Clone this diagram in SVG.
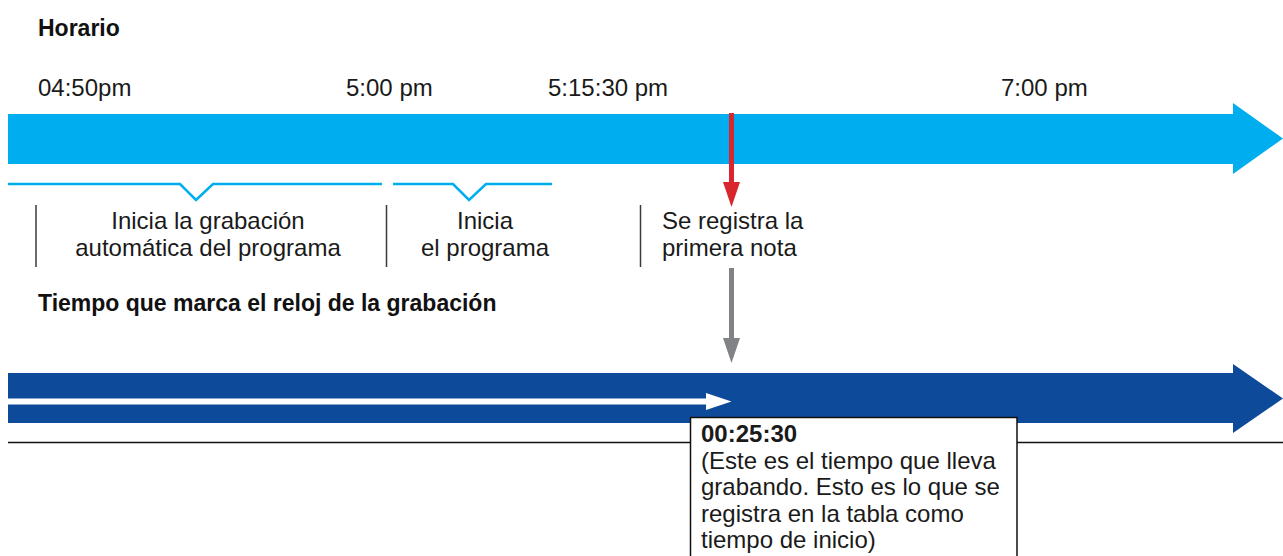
<svg xmlns="http://www.w3.org/2000/svg" width="1283" height="556" viewBox="0 0 1283 556">
<defs>
<style>
.t{font-family:"Liberation Sans",Arial,sans-serif;font-size:24px;fill:#1a1a1a}
.h{font-family:"Liberation Sans",Arial,sans-serif;font-size:23px;font-weight:bold;fill:#111}
.c{text-anchor:middle}
.br{fill:none;stroke:#00AEEF;stroke-width:2.5}
.sep{stroke:#3a3a3a;stroke-width:1.5}
</style>
</defs>
<rect width="1283" height="556" fill="#fff"/>

<g id="title-horario"><text class="h" x="38" y="36">Horario</text></g>

<g id="time-labels">
<text class="t" x="38" y="96">04:50pm</text>
<text class="t" x="346" y="96">5:00 pm</text>
<text class="t" x="548" y="96">5:15:30 pm</text>
<text class="t" x="1001" y="96">7:00 pm</text>
</g>

<g id="timeline-horario">
<polygon points="8,114 1233,114 1233,103 1283,138.5 1233,174 1233,164 8,164" fill="#00AEEF"/>
</g>

<g id="bracket-grabacion">
<polyline class="br" points="8,184 180,184 196,200 213,184 382,184"/>
</g>
<g id="bracket-programa">
<polyline class="br" points="393,184 453,184 469,200 486,184 552,184"/>
</g>

<g id="node-grabacion">
<line class="sep" x1="36" y1="205" x2="36" y2="267"/>
<text class="t c" x="208" y="229">Inicia la grabación</text>
<text class="t c" x="208" y="256">automática del programa</text>
</g>

<g id="node-programa">
<line class="sep" x1="386.5" y1="205" x2="386.5" y2="267"/>
<text class="t c" x="485" y="229">Inicia</text>
<text class="t c" x="485" y="256">el programa</text>
</g>

<g id="node-nota">
<line class="sep" x1="640.5" y1="205" x2="640.5" y2="267"/>
<text class="t" x="662" y="229">Se registra la</text>
<text class="t" x="662" y="256">primera nota</text>
</g>

<g id="title-tiempo"><text class="h" x="38" y="311">Tiempo que marca el reloj de la grabación</text></g>

<line id="baseline" x1="8" y1="442.5" x2="1283" y2="442.5" stroke="#111" stroke-width="1.5"/>

<g id="timeline-reloj">
<polygon points="8,373 1233,373 1233,364 1283,398.5 1233,433 1233,423 8,423" fill="#0D4A9A"/>
<rect x="8" y="398.5" width="700" height="6" fill="#fff"/>
<polygon points="706,393 731.5,401.5 706,410" fill="#fff"/>
</g>

<g id="connectors">
<line x1="731.5" y1="113" x2="731.5" y2="184" stroke="#D9262E" stroke-width="5"/>
<polygon points="723,182 740,182 731.5,207" fill="#D9262E"/>
<line x1="731.5" y1="268" x2="731.5" y2="340" stroke="#808285" stroke-width="5"/>
<polygon points="723,338 740,338 731.5,363" fill="#808285"/>
</g>

<g id="node-resultado">
<rect x="690.5" y="417.5" width="326.5" height="145" fill="#fff" stroke="#111" stroke-width="1.5"/>
<text class="t" x="701" y="442" style="font-weight:bold">00:25:30</text>
<text class="t" x="701" y="468.5">(Este es el tiempo que lleva</text>
<text class="t" x="701" y="495">grabando. Esto es lo que se</text>
<text class="t" x="701" y="521.5">registra en la tabla como</text>
<text class="t" x="701" y="548">tiempo de inicio)</text>
</g>
</svg>
